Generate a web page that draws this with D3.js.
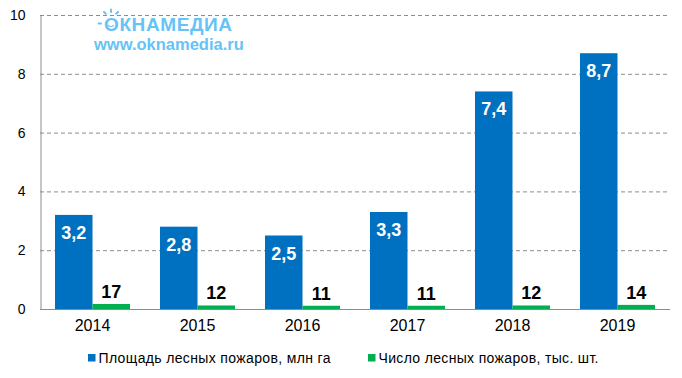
<!DOCTYPE html>
<html><head><meta charset="utf-8">
<script src="https://cdn.jsdelivr.net/npm/d3@7"></script>
<style>body{margin:0;background:#fff}svg{display:block;font-family:"Liberation Sans",Arial,sans-serif}</style>
</head><body><svg id="c" width="682" height="378"></svg>
<script>
const years = ["2014","2015","2016","2017","2018","2019"];
const area = [3.2, 2.8, 2.5, 3.3, 7.4, 8.7];          // млн га
const count = [17, 12, 11, 11, 12, 14];               // тыс. шт.
const areaLabels = ["3,2","2,8","2,5","3,3","7,4","8,7"];
const yTicks = [0, 2, 4, 6, 8, 10];
const seriesNames = ["Площадь лесных пожаров, млн га", "Число лесных пожаров, тыс. шт."];
const colors = ["#0070c0", "#00b050"];

const svg = d3.select("#c");
const L = 40, R = 670, T = 15, B = 309;
const x = d3.scaleBand().domain(years).range([L, R]).paddingInner(0.2857).paddingOuter(0.1429);
const y = d3.scaleLinear().domain([0, 10]).range([B, T]);

// gridlines
svg.append("g").selectAll("line").data(yTicks.filter(d => d > 0)).join("line")
  .attr("x1", L).attr("x2", 668).attr("y1", d => y(d) + 0.5).attr("y2", d => y(d) + 0.5)
  .attr("stroke", "#8c8c8c").attr("stroke-dasharray", "4,3").attr("stroke-width", 1);

// logo
const lc = "#66c3f6";
const logo = svg.append("g");
logo.append("text").attr("x", 104).attr("y", 31).attr("fill", lc)
  .attr("font-size", 19).attr("font-weight", "bold").attr("letter-spacing", 0.6).text("ОКНАМЕДИА");
const sun = logo.append("g").attr("stroke", lc).attr("stroke-width", 2).attr("stroke-linecap", "round").attr("fill", "none");
[[111,9.5,111,12],[104,12,105.8,13.8],[118,12,116.2,13.8],[98.5,23.5,101,23.5]].forEach(s=>{
  sun.append("line").attr("x1",s[0]).attr("y1",s[1]).attr("x2",s[2]).attr("y2",s[3]);
});
sun.append("path").attr("d","M108.5,25.5 Q111,27.5 113.5,25.5").attr("stroke-width",1.2);
logo.append("text").attr("x", 94).attr("y", 50).attr("fill", lc)
  .attr("font-size", 16.5).attr("font-weight", "bold").text("www.oknamedia.ru");

const bw = x.bandwidth() / 2;
// blue bars
svg.append("g").selectAll("rect").data(area).join("rect")
  .attr("x", (d, i) => x(years[i])).attr("width", bw)
  .attr("y", d => y(d)).attr("height", d => B - y(d)).attr("fill", colors[0]);
// green bars (thousands plotted on same axis at /100)
svg.append("g").selectAll("rect").data(count).join("rect")
  .attr("x", (d, i) => x(years[i]) + bw).attr("width", bw)
  .attr("y", d => y(d / 100)).attr("height", d => B - y(d / 100)).attr("fill", colors[1]);

// labels
svg.append("g").selectAll("text").data(area).join("text")
  .attr("x", (d, i) => x(years[i]) + bw / 2).attr("y", d => y(d) + 24)
  .attr("text-anchor", "middle").attr("fill", "#fff").attr("font-size", 18).attr("font-weight", "bold")
  .text((d, i) => areaLabels[i]);
svg.append("g").selectAll("text").data(count).join("text")
  .attr("x", (d, i) => x(years[i]) + bw * 1.5).attr("y", d => y(d / 100) - 6)
  .attr("text-anchor", "middle").attr("fill", "#000").attr("font-size", 18).attr("font-weight", "bold")
  .text(d => d);

// axes
const yAxis = d3.axisLeft(y).tickValues(yTicks).tickSize(0).tickPadding(15);
const gy = svg.append("g").attr("transform", `translate(${L + 0.5},0)`).call(yAxis);
gy.select(".domain").attr("stroke", "#8c8c8c");
gy.selectAll("text").attr("font-size", 14).attr("fill", "#000").attr("font-family", "Liberation Sans, Arial, sans-serif");

const xAxis = d3.axisBottom(x).tickSize(0).tickPadding(10);
const gx = svg.append("g").attr("transform", `translate(0,${B + 0.5})`).call(xAxis);
gx.select(".domain").attr("stroke", "#8c8c8c").attr("d", `M${L},0H${R}`);
gx.selectAll("text").attr("font-size", 16).attr("fill", "#000").attr("font-family", "Liberation Sans, Arial, sans-serif");

// legend
const legX = [88, 368];
const legW = [232, 220];
const lg = svg.append("g").selectAll("g").data(seriesNames).join("g")
  .attr("transform", (d, i) => `translate(${legX[i]},354)`);
lg.append("rect").attr("width", 7.5).attr("height", 7.5).attr("fill", (d, i) => colors[i]);
lg.append("text").attr("x", 10.5).attr("y", 8.5).attr("font-size", 14)
  .attr("textLength", (d, i) => legW[i]).attr("lengthAdjust", "spacing")
  .attr("fill", "#000").text(d => d);
</script></body></html>
